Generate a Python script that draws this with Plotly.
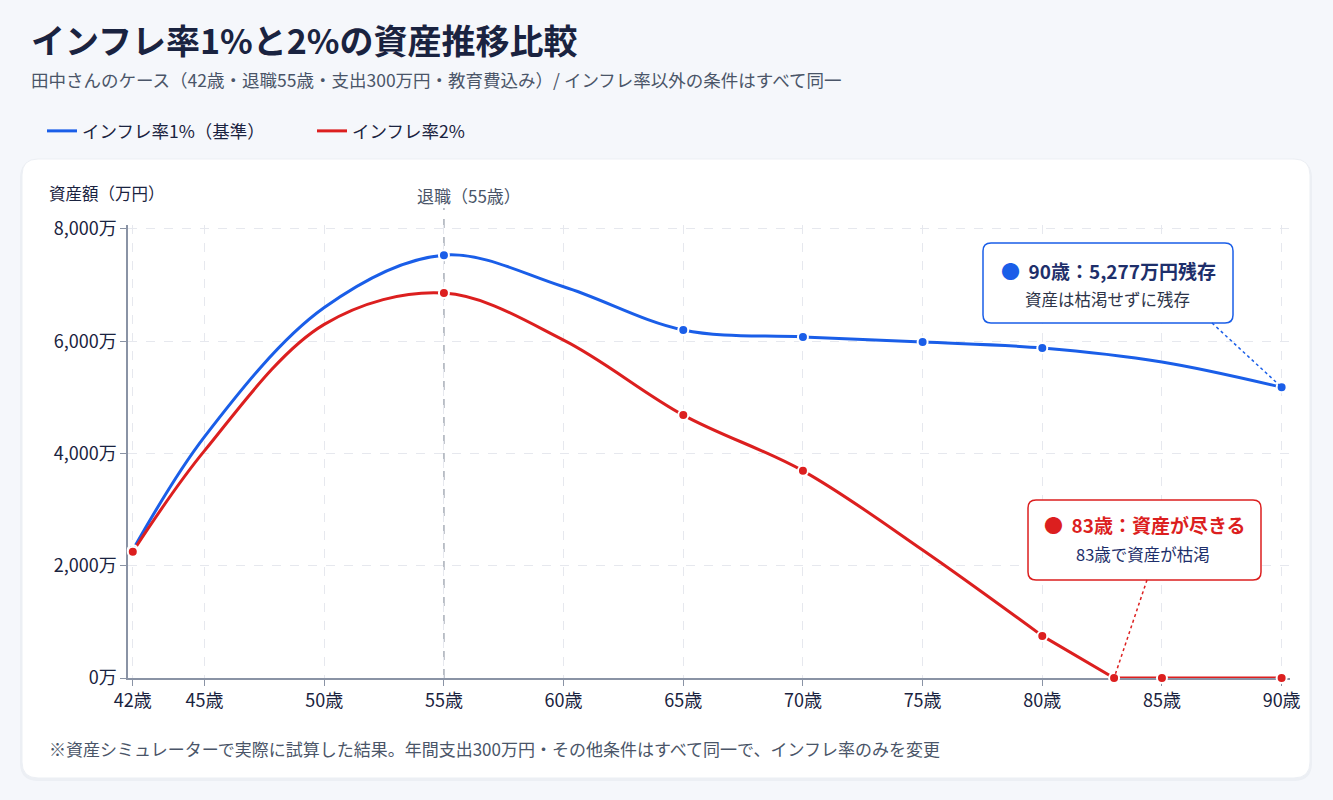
import plotly.graph_objects as go

# ---------------- data ----------------
ages_line = [42, 45, 50, 55, 60, 65, 70, 75, 80, 85, 90]
blue_vals = [2280, 4300, 6600, 7533, 6970, 6200, 6075, 5985, 5880, 5630, 5180]
blue_marker_ages = [42, 55, 65, 70, 75, 80, 90]

red_spline_ages = [42, 45, 50, 55, 60, 65, 70, 75, 80]
red_spline_vals = [2250, 4050, 6300, 6857, 6020, 4684, 3690, 2280, 750]
red_tail_ages = [80, 83, 85, 90]
red_tail_vals = [750, 0, 0, 0]
red_marker_ages = [42, 55, 65, 70, 80, 83, 85, 90]

x_tickvals = [42, 45, 50, 55, 60, 65, 70, 75, 80, 85, 90]
x_ticktext = [f"{a}歳" for a in x_tickvals]
y_tickvals = [0, 2000, 4000, 6000, 8000]
y_ticktext = [f"{v:,}万" for v in y_tickvals]

BLUE = "#1a5ee8"
RED = "#dc1f1f"
NAVY = "#1a2340"
GREY = "#4a5568"
FONT = "Noto Sans CJK JP"

# ---------------- geometry helpers ----------------
FW, FH = 1333, 800
L, R, T, B = 128, 43, 225, 122
W = FW - L - R
H = FH - T - B
XR = [41.8, 90.35]
YR = [0, 8070]


def px(x):
    return (x - L) / W


def py(y):
    return (FH - B - y) / H


def rrect(x0, y0, x1, y1, r):
    def P(x, y):
        return f"{px(x):.5f},{py(y):.5f}"
    return (
        f"M {P(x0 + r, y0)} L {P(x1 - r, y0)} Q {P(x1, y0)} {P(x1, y0 + r)} "
        f"L {P(x1, y1 - r)} Q {P(x1, y1)} {P(x1 - r, y1)} "
        f"L {P(x0 + r, y1)} Q {P(x0, y1)} {P(x0, y1 - r)} "
        f"L {P(x0, y0 + r)} Q {P(x0, y0)} {P(x0 + r, y0)} Z"
    )


def xpix(age):
    return L + (age - XR[0]) / (XR[1] - XR[0]) * W


def ypix(v):
    return FH - B - (v - YR[0]) / (YR[1] - YR[0]) * H


blue_map = dict(zip(ages_line, blue_vals))
red_map = dict(zip(red_spline_ages, red_spline_vals))
red_map.update(dict(zip(red_tail_ages, red_tail_vals)))

fig = go.Figure()

fig.add_trace(go.Scatter(
    x=ages_line, y=blue_vals, mode="lines", name="インフレ率1%（基準）",
    line=dict(color=BLUE, width=3, shape="spline", smoothing=1.0),
    hoverinfo="skip", cliponaxis=False))
fig.add_trace(go.Scatter(
    x=red_spline_ages, y=red_spline_vals, mode="lines", name="インフレ率2%",
    line=dict(color=RED, width=3, shape="spline", smoothing=1.0),
    hoverinfo="skip", cliponaxis=False))
fig.add_trace(go.Scatter(
    x=red_tail_ages, y=red_tail_vals, mode="lines", showlegend=False,
    line=dict(color=RED, width=3), hoverinfo="skip", cliponaxis=False))

fig.add_trace(go.Scatter(
    x=blue_marker_ages, y=[blue_map[a] for a in blue_marker_ages], mode="markers",
    showlegend=False, cliponaxis=False,
    marker=dict(color=BLUE, size=10, line=dict(color="white", width=2))))
fig.add_trace(go.Scatter(
    x=red_marker_ages, y=[red_map[a] for a in red_marker_ages], mode="markers",
    showlegend=False, cliponaxis=False,
    marker=dict(color=RED, size=10, line=dict(color="white", width=2))))

shapes = []
shapes.append(dict(type="path", xref="paper", yref="paper", layer="below",
                   path=rrect(20, 160, 1312, 781, 18),
                   fillcolor="rgba(30,40,70,0.04)", line=dict(width=0)))
shapes.append(dict(type="path", xref="paper", yref="paper", layer="below",
                   path=rrect(22, 159, 1310, 778, 16),
                   fillcolor="white", line=dict(color="#eceff4", width=1)))
shapes.append(dict(type="line", xref="x", yref="paper", x0=55, x1=55,
                   y0=0, y1=py(208), layer="below",
                   line=dict(color="#a8aeb8", width=1.5, dash="dash")))
shapes.append(dict(type="path", xref="paper", yref="paper",
                   path=rrect(983, 243, 1233, 323, 8),
                   fillcolor="white", line=dict(color=BLUE, width=1.5)))
shapes.append(dict(type="path", xref="paper", yref="paper",
                   path=rrect(1028, 500, 1261, 580, 8),
                   fillcolor="white", line=dict(color=RED, width=1.5)))
shapes.append(dict(type="line", xref="paper", yref="paper",
                   x0=px(1212), y0=py(323), x1=px(xpix(90)), y1=py(ypix(blue_map[90])),
                   line=dict(color=BLUE, width=1.5, dash="dot")))
shapes.append(dict(type="line", xref="paper", yref="paper",
                   x0=px(1147), y0=py(580), x1=px(xpix(83)), y1=py(ypix(0)),
                   line=dict(color=RED, width=1.5, dash="dot")))
fig.update_layout(shapes=shapes)

ann = []
ann.append(dict(text="<b>インフレ率1%と2%の資産推移比較</b>", x=px(29), y=py(40),
                xref="paper", yref="paper", xanchor="left", yanchor="middle",
                showarrow=False, font=dict(size=34, color=NAVY, family=FONT)))
ann.append(dict(text="田中さんのケース（42歳・退職55歳・支出300万円・教育費込み）/ インフレ率以外の条件はすべて同一",
                x=px(29), y=py(80), xref="paper", yref="paper", xanchor="left", yanchor="middle",
                showarrow=False, font=dict(size=17.5, color=GREY, family=FONT)))
ann.append(dict(text="資産額（万円）", x=px(47), y=py(193), xref="paper", yref="paper",
                xanchor="left", yanchor="middle", showarrow=False,
                font=dict(size=16.5, color=NAVY, family=FONT)))
ann.append(dict(text="退職（55歳）", x=55, y=py(195), xref="x", yref="paper",
                xanchor="left", yanchor="middle", xshift=-29, showarrow=False,
                font=dict(size=17, color=GREY, family=FONT)))
ann.append(dict(text=f"<span style='color:{BLUE}'>●</span>  <b>90歳：5,277万円残存</b>",
                x=px(1108), y=py(270), xref="paper", yref="paper",
                xanchor="center", yanchor="middle", showarrow=False,
                font=dict(size=19, color="#1e2f6b", family=FONT)))
ann.append(dict(text="資産は枯渇せずに残存", x=px(1107), y=py(299), xref="paper", yref="paper",
                xanchor="center", yanchor="middle", showarrow=False,
                font=dict(size=16.5, color="#2d3448", family=FONT)))
ann.append(dict(text="●  <b>83歳：資産が尽きる</b>", x=px(1145), y=py(524),
                xref="paper", yref="paper", xanchor="center", yanchor="middle",
                showarrow=False, font=dict(size=19, color=RED, family=FONT)))
ann.append(dict(text="83歳で資産が枯渇", x=px(1143), y=py(554), xref="paper", yref="paper",
                xanchor="center", yanchor="middle", showarrow=False,
                font=dict(size=16.5, color="#1e2f6b", family=FONT)))
ann.append(dict(text="※資産シミュレーターで実際に試算した結果。年間支出300万円・その他条件はすべて同一で、インフレ率のみを変更",
                x=px(47), y=py(748), xref="paper", yref="paper", xanchor="left", yanchor="middle",
                showarrow=False, font=dict(size=17, color=GREY, family=FONT)))

fig.update_layout(
    width=FW, height=FH,
    margin=dict(l=L, r=R, t=T, b=B),
    paper_bgcolor="#f5f7fb", plot_bgcolor="white",
    font=dict(family=FONT, color=NAVY, size=15),
    annotations=ann,
    legend=dict(orientation="h", x=px(42), y=py(131), xanchor="left", yanchor="middle",
                xref="paper", yref="paper",
                font=dict(size=17.5, color=NAVY, family=FONT),
                entrywidth=225, entrywidthmode="pixels",
                bgcolor="rgba(0,0,0,0)", itemclick=False),
    xaxis=dict(range=XR, tickvals=x_tickvals, ticktext=x_ticktext,
               showline=True, linecolor="#8a93a5", linewidth=1.5,
               ticks="outside", ticklen=6, tickcolor="#8a93a5",
               showgrid=True, gridcolor="#e6e8ee", griddash="dash", gridwidth=1,
               zeroline=False, layer="below traces",
               tickfont=dict(size=18, color=NAVY, family=FONT)),
    yaxis=dict(range=YR, tickvals=y_tickvals, ticktext=y_ticktext,
               showline=True, linecolor="#8a93a5", linewidth=1.5,
               ticks="outside", ticklen=6, tickcolor="#8a93a5",
               showgrid=True, gridcolor="#e6e8ee", griddash="dash", gridwidth=1,
               zeroline=False, layer="below traces",
               tickfont=dict(size=18, color=NAVY, family=FONT)),
    hovermode=False,
)

fig.write_html("out.html")
